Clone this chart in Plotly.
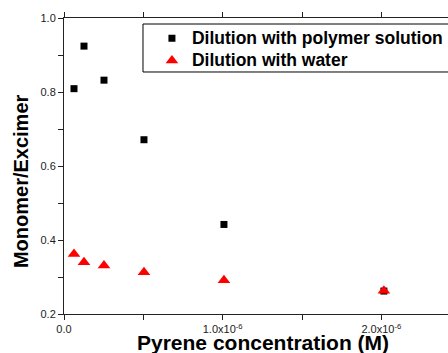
import plotly.graph_objects as go

# Data
conc = [0.063e-6, 0.126e-6, 0.252e-6, 0.504e-6, 1.008e-6, 2.016e-6]
polymer = [0.809, 0.924, 0.832, 0.671, 0.442, 0.262]
water = [0.362, 0.340, 0.331, 0.313, 0.291, 0.263]

series_names = ["Dilution with polymer solution", "Dilution with water"]

x_tickvals = [0, 0.5e-6, 1.0e-6, 1.5e-6, 2.0e-6]
x_ticktext = ["0.0", "", "1.0x10<sup>-6</sup>", "", "2.0x10<sup>-6</sup>"]
y_tickvals = [0.2, 0.3, 0.4, 0.5, 0.6, 0.7, 0.8, 0.9, 1.0]
y_ticktext = ["0.2", "", "0.4", "", "0.6", "", "0.8", "", "1.0"]

FONT = "Arial, Liberation Sans, sans-serif"


def leg(name):
    return '<span style="font-size:17.5px"><b>%s</b></span>' % name


fig = go.Figure()
fig.add_trace(go.Scatter(
    x=conc, y=polymer, mode="markers", name=leg(series_names[0]),
    marker=dict(symbol="square", size=7, color="black"),
))
fig.add_trace(go.Scatter(
    x=conc, y=water, mode="markers", name=leg(series_names[1]),
    marker=dict(symbol="triangle-up", size=11, color="#ff0000"),
))

axis_common = dict(
    showline=True, linecolor="#222", linewidth=1, showgrid=False, zeroline=False,
    ticks="outside", ticklen=5, tickcolor="#222", tickwidth=1,
    tickfont=dict(family=FONT, size=11, color="#222"),
)

fig.update_xaxes(range=[0, 2.42e-6], tickmode="array", tickvals=x_tickvals,
                 ticktext=x_ticktext, mirror="ticks", **axis_common)
fig.update_yaxes(range=[0.2, 1.0], tickmode="array", tickvals=y_tickvals,
                 ticktext=y_ticktext, mirror=False, **axis_common)

fig.add_annotation(text="<b>Pyrene concentration (M)</b>", xref="paper", yref="paper",
                   x=0.517, y=-0.095, xanchor="center", yanchor="middle", showarrow=False,
                   font=dict(family=FONT, size=21, color="black"))
fig.add_annotation(text="<b>Monomer/Excimer</b>", xref="paper", yref="paper",
                   x=-0.112, y=0.449, xanchor="center", yanchor="middle", showarrow=False,
                   textangle=-90, font=dict(family=FONT, size=20, color="black"))

# legend frame
fig.add_shape(type="rect", xref="paper", yref="paper",
              x0=0.2057, x1=1.05, y0=0.8176, y1=0.9797,
              line=dict(color="black", width=1), fillcolor="rgba(0,0,0,0)")

fig.update_layout(
    width=448, height=353,
    margin=dict(l=64, r=0, t=18, b=39, autoexpand=False),
    plot_bgcolor="white", paper_bgcolor="white",
    legend=dict(x=0.229, y=0.986, xanchor="left", yanchor="top",
                borderwidth=0, bgcolor="rgba(0,0,0,0)",
                font=dict(family=FONT, size=14.8, color="black"),
                tracegroupgap=0),
)

fig.write_html("out.html")
